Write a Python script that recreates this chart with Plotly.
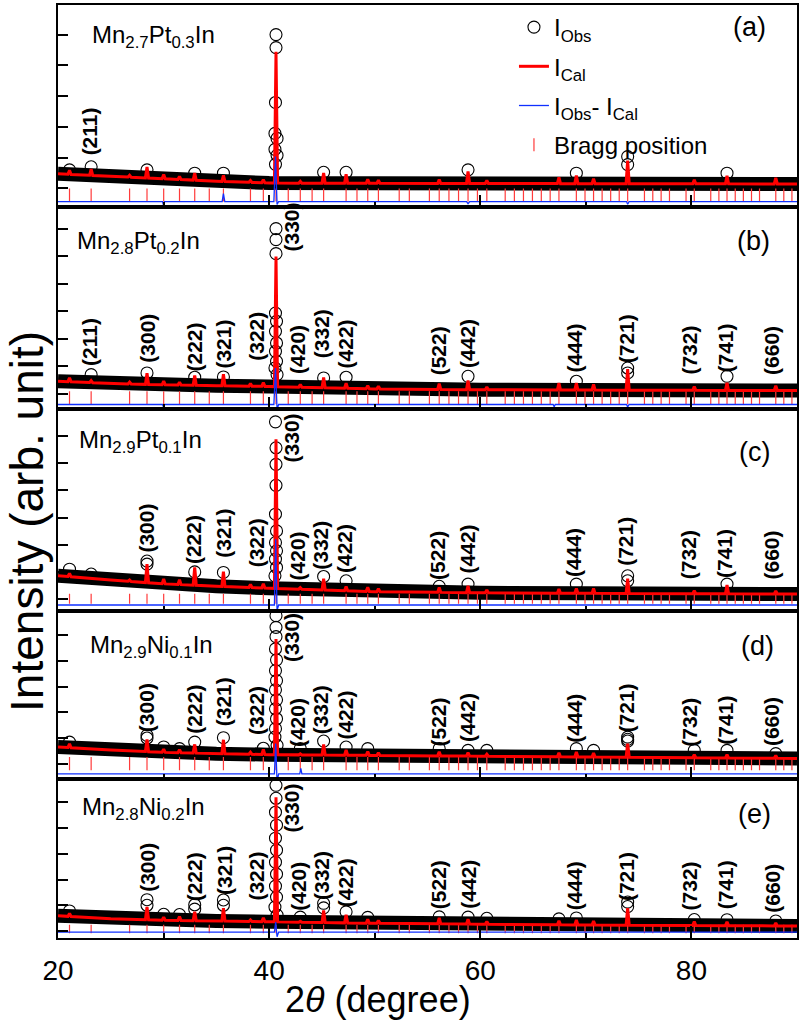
import numpy as np
import plotly.graph_objects as go

FONT = "Liberation Sans, Arial, Helvetica, sans-serif"

# ---------------- common data ----------------
BRAGG_2THETA = [21.09, 23.14, 26.78, 28.43, 30.01, 31.51, 32.95, 34.33, 35.67, 38.23,
                39.45, 40.65, 41.81, 42.95, 44.07, 45.16, 47.29, 48.32, 49.34, 50.35,
                52.32, 53.28, 55.18, 56.11, 57.03, 57.94, 58.84, 59.73, 60.62, 62.36,
                63.23, 64.09, 64.94, 65.78, 66.62, 67.45, 69.10, 69.92, 70.73, 71.54,
                72.35, 73.16, 73.96, 75.55, 76.34, 77.13, 77.92, 79.49, 80.27, 81.83,
                82.60, 83.37, 84.15, 84.92, 85.69, 86.45, 87.99, 88.75, 89.52]

PEAK_2THETA = [21.09, 23.14, 26.78, 28.43, 30.01, 31.51, 32.95, 35.67, 38.23, 39.45,
               40.65, 42.95, 45.16, 47.29, 49.34, 50.35, 56.11, 58.84, 60.62, 67.45,
               69.10, 70.73, 73.96, 80.27, 83.37, 87.99]

BG_2THETA = [20, 25, 30, 35, 40, 50, 60, 70, 80, 90]

HKL_LABELS = ["(211)", "(300)", "(222)", "(321)", "(322)", "(330)", "(420)", "(332)",
              "(422)", "(522)", "(442)", "(444)", "(721)", "(732)", "(741)", "(660)"]
HKL_2THETA = [23.0, 28.4, 32.9, 35.7, 38.8, 42.1, 42.7, 44.9,
              47.2, 56.0, 58.8, 68.9, 73.8, 79.8, 83.2, 87.6]

SAMPLES = ["Mn<sub>2.7</sub>Pt<sub>0.3</sub>In", "Mn<sub>2.8</sub>Pt<sub>0.2</sub>In",
           "Mn<sub>2.9</sub>Pt<sub>0.1</sub>In", "Mn<sub>2.9</sub>Ni<sub>0.1</sub>In",
           "Mn<sub>2.8</sub>Ni<sub>0.2</sub>In"]
PANEL_TAGS = ["(a)", "(b)", "(c)", "(d)", "(e)"]

# ---------------- panel (a) ----------------
BG_A = [470, 390, 310, 230, 170, 160, 155, 150, 145, 140]
CAL_RISE_A = [130, 200, 60, 360, 140, 100, 230, 200, 60, 100, 4270, 60, 330, 290, 130, 100,
              130, 390, 100, 200, 260, 160, 750, 130, 260, 200]
OBS_X_A = [21.09, 23.14, 28.43, 32.95, 35.67, 45.16, 47.29, 58.84, 69.10, 73.96, 73.96, 83.37,
           40.65, 40.65, 40.6, 40.55, 40.75, 40.55, 40.75, 40.6]
OBS_Y_A = [600, 700, 600, 490, 490, 520, 520, 600, 490, 1030, 770, 490,
           5000, 4578, 2792, 1786, 1623, 1266, 1071, 779]
DIFF_X_A = [20, 29.9, 30.0, 30.1, 35.55, 35.67, 35.8, 40.45, 40.6, 40.75, 40.9,
            58.7, 58.84, 59.0, 73.85, 73.96, 74.1, 90]
DIFF_Y_A = [-432, -432, -560, -432, -432, -170, -432, -432, 1030, -530, -432,
            -432, -500, -432, -432, -520, -432, -432]
HKL_Y_A = [1841, None, None, None, None, None, None, None,
           None, None, None, None, None, None, None, None]

# ---------------- panel (b) ----------------
BG_B = [460, 380, 330, 300, 270, 180, 150, 140, 130, 120]
CAL_RISE_B = [145, 70, 70, 410, 140, 100, 360, 420, 100, 140, 4720, 100, 375, 180, 110, 100,
              210, 330, 100, 250, 250, 210, 760, 140, 280, 180]
OBS_X_B = [23.14, 28.43, 32.95, 35.67, 45.16, 47.29, 58.84, 69.10, 73.96, 73.96, 83.37,
           40.65, 40.65, 40.65, 40.6, 40.7, 40.6, 40.7, 40.6, 40.7, 40.55, 40.75]
OBS_Y_B = [700, 760, 605, 615, 580, 605, 640, 460, 940, 760, 640,
           6000, 5600, 5090, 2935, 2634, 2272, 1848, 1547, 1185, 942, 703]
DIFF_X_B = [20, 29.9, 30.0, 30.1, 40.45, 40.6, 40.75, 40.9, 66.9, 67.0, 67.1,
            73.85, 73.96, 74.1, 90]
DIFF_Y_B = [-385, -385, -480, -385, -385, 940, -554, -385, -385, -460, -385,
            -385, -470, -385, -385]
HKL_Y_B = [1873, 2029, 1692, 1819, 2091, 6050, 1620, 2199,
           1801, 1547, 1837, 1656, 2018, 1583, 1656, 1583]

# ---------------- panel (c) ----------------
BG_C = [860, 700, 560, 470, 400, 270, 230, 210, 195, 185]
CAL_RISE_C = [120, 0, 50, 680, 180, 180, 660, 550, 110, 150, 5500, 60, 420, 160, 150, 110,
              180, 250, 110, 150, 180, 180, 547, 110, 325, 110]
OBS_X_C = [21.09, 23.14, 28.43, 28.43, 32.95, 35.67, 45.16, 47.29, 56.11, 58.84, 69.10,
           73.96, 73.96, 83.37,
           40.6, 40.65, 40.65, 40.65, 40.6, 40.7, 40.6, 40.7, 40.6, 40.7, 40.55]
OBS_Y_C = [1100, 920, 1400, 1287, 1000, 980, 830, 673, 470, 551, 551,
           857, 673, 551,
           6530, 5574, 4963, 4191, 3125, 2511, 2081, 1776, 1471, 1162, 857]
DIFF_X_C = [20, 40.5, 40.62, 40.75, 40.9, 90]
DIFF_Y_C = [-220, -220, 2200, -420, -220, -220]
HKL_Y_C = [None, 2621, 2180, 2438, 2070, 5930, 1592, 1996,
           1849, 1592, 1849, 1702, 2143, 1629, 1665, 1629]

# ---------------- panel (d) ----------------
BG_D = [650, 530, 440, 390, 350, 320, 290, 260, 230, 200]
CAL_RISE_D = [150, 0, 0, 474, 120, 120, 340, 545, 80, 200, 4514, 40, 410, 210, 150, 110,
              160, 135, 80, 150, 190, 150, 530, 120, 130, 110]
OBS_X_D = [21.09, 28.43, 28.43, 30.01, 31.51, 32.95, 35.67, 39.45, 42.95, 45.16, 47.29,
           49.34, 56.11, 58.84, 60.62, 69.10, 70.73, 73.96, 73.96, 73.96, 80.27, 83.37, 87.99,
           40.65, 40.65, 40.65, 40.6, 40.7, 40.6, 40.7, 40.6, 40.7, 40.6, 40.7, 40.6, 40.55, 40.75]
OBS_Y_D = [840, 1100, 1000, 650, 584, 840, 1012, 600, 584, 880, 646,
           584, 584, 518, 518, 584, 518, 1035, 950, 880, 518, 518, 389,
           5770, 5315, 4953, 4475, 4047, 3630, 3241, 2879, 2490, 2140, 1751, 1362, 1035, 712]
DIFF_X_D = [20, 40.5, 40.62, 40.75, 40.9, 42.9, 43.0, 43.1, 90]
DIFF_Y_D = [-400, -400, 780, -700, -400, -400, -183, -400, -400]
HKL_Y_D = [None, 2191, 2113, 2424, 2074, 4914, 1607, 2113,
           1879, 1607, 1802, 1763, 2191, 1607, 1685, 1646]

# ---------------- panel (e) ----------------
BG_E = [590, 480, 420, 390, 360, 300, 265, 235, 215, 195]
CAL_RISE_E = [120, 0, 0, 500, 120, 150, 350, 500, 60, 150, 4834, 40, 465, 310, 150, 110,
              230, 190, 110, 150, 190, 150, 660, 150, 150, 110]
OBS_X_E = [21.09, 28.43, 28.43, 30.01, 31.51, 32.95, 32.95, 35.67, 35.67, 42.95, 45.16, 45.16,
           47.29, 49.34, 56.11, 58.84, 60.62, 67.45, 69.10, 73.96, 73.96, 80.27, 83.37, 87.99,
           40.65, 40.65, 40.6, 40.7, 40.6, 40.7, 40.6, 40.7, 40.6, 40.7, 40.55, 40.75]
OBS_Y_E = [780, 1215, 1000, 650, 640, 1020, 850, 1205, 1000, 540, 1076, 900,
           745, 530, 550, 540, 495, 470, 508, 1125, 950, 445, 440, 390,
           5659, 5155, 4612, 4108, 3605, 3140, 2674, 2209, 1744, 1318, 930, 620]
DIFF_X_E = [20, 40.5, 40.62, 40.75, 40.9, 90]
DIFF_Y_E = [-40, -40, 350, -220, -40, -40]
HKL_Y_E = [None, 2481, 2093, 2364, 2132, 4767, 1744, 2171,
           1860, 1783, 1822, 1744, 2132, 1744, 1783, 1667]

PANELS = [
    (BG_A, CAL_RISE_A, OBS_X_A, OBS_Y_A, DIFF_X_A, DIFF_Y_A, HKL_Y_A),
    (BG_B, CAL_RISE_B, OBS_X_B, OBS_Y_B, DIFF_X_B, DIFF_Y_B, HKL_Y_B),
    (BG_C, CAL_RISE_C, OBS_X_C, OBS_Y_C, DIFF_X_C, DIFF_Y_C, HKL_Y_C),
    (BG_D, CAL_RISE_D, OBS_X_D, OBS_Y_D, DIFF_X_D, DIFF_Y_D, HKL_Y_D),
    (BG_E, CAL_RISE_E, OBS_X_E, OBS_Y_E, DIFF_X_E, DIFF_Y_E, HKL_Y_E),
]

# ---------------- layout / style ----------------
DOMAINS = [(0.7840, 1.0), (0.5668, 0.7840), (0.3508, 0.5668), (0.1701, 0.3508), (0.0, 0.1701)]
YRANGES = [(-594, 5964), (-554, 6801), (-430, 6996), (-611, 5965), (-271, 5891)]
BRAGG_MID = [-216, -138, 11, 0, 78]
BRAGG_SIZE = [9.3, 9.3, 7.2, 9.5, 6.0]
SAMPLE_POS = [(0.0433, 0.9660), (0.0230, 0.7450), (0.0257, 0.5320), (0.0406, 0.3120), (0.0298, 0.1385)]
TAG_POS = [(0.936, 0.976), (0.941, 0.747), (0.943, 0.521), (0.946, 0.313), (0.943, 0.133)]
HALF_WIDTH = 0.15

RED = "#ff0000"
BLUE = "#1030ff"
BRAGG_RED = "#ff3b3b"


def calc_curve(bg, rise):
    pts = []
    spans = []
    for p, h in zip(PEAK_2THETA, rise):
        if h <= 0:
            continue
        spans.append((p - HALF_WIDTH, p + HALF_WIDTH))
        for xx, add in ((p - HALF_WIDTH, 0.0), (p, h), (p + HALF_WIDTH, 0.0)):
            pts.append((xx, float(np.interp(xx, BG_2THETA, bg)) + add))
    for xb, yb in zip(BG_2THETA, bg):
        if not any(a <= xb <= b for a, b in spans):
            pts.append((xb, yb))
    pts.sort()
    return [q[0] for q in pts], [q[1] for q in pts]


fig = go.Figure()
annotations = []
layout_axes = {}

for i, (bg, rise, ox, oy, dx, dy, hky) in enumerate(PANELS):
    n = i + 1
    xr = "x" if n == 1 else f"x{n}"
    yr = "y" if n == 1 else f"y{n}"
    first = (n == 1)

    # observed data as dense band
    fig.add_trace(go.Scatter(x=BG_2THETA, y=bg, xaxis=xr, yaxis=yr, mode="lines",
                             line=dict(color="black", width=14), showlegend=False,
                             legendgroup="obs", hoverinfo="skip"))
    # observed points rising above the band
    fig.add_trace(go.Scatter(x=ox, y=oy, xaxis=xr, yaxis=yr, mode="markers",
                             name="I<sub>Obs</sub>", legendrank=1, showlegend=first,
                             legendgroup="obs", cliponaxis=False,
                             marker=dict(symbol="circle-open", size=12, color="black",
                                         line=dict(width=1.1, color="black"))))
    # Bragg positions
    fig.add_trace(go.Scatter(x=BRAGG_2THETA, y=[BRAGG_MID[i]] * len(BRAGG_2THETA),
                             xaxis=xr, yaxis=yr, mode="markers",
                             name="Bragg position", legendrank=4, showlegend=first,
                             legendgroup="bragg",
                             marker=dict(symbol="line-ns", size=BRAGG_SIZE[i], color=BRAGG_RED,
                                         line=dict(width=1.2, color=BRAGG_RED))))
    # calculated
    cx, cy = calc_curve(bg, rise)
    fig.add_trace(go.Scatter(x=cx, y=cy, xaxis=xr, yaxis=yr, mode="lines",
                             name="I<sub>Cal</sub>", legendrank=2, showlegend=first,
                             legendgroup="cal", line=dict(color=RED, width=3)))
    # difference
    fig.add_trace(go.Scatter(x=dx, y=dy, xaxis=xr, yaxis=yr, mode="lines",
                             name="I<sub>Obs</sub>- I<sub>Cal</sub>", legendrank=3,
                             showlegend=first, legendgroup="diff",
                             line=dict(color=BLUE, width=1.3)))

    xa = "xaxis" if n == 1 else f"xaxis{n}"
    ya = "yaxis" if n == 1 else f"yaxis{n}"
    layout_axes[xa] = dict(domain=[0, 1], anchor=yr, range=[20, 90], showline=True,
                           linecolor="black", linewidth=2, mirror=True, ticks="inside",
                           ticklen=12, tickwidth=1.5, tickcolor="black", tick0=20, dtick=20,
                           minor=dict(ticks="inside", ticklen=5, tickwidth=1.5,
                                      tickcolor="black", tick0=20, dtick=10),
                           showgrid=False, zeroline=False, showticklabels=(n == 5),
                           ticklabelstandoff=6,
                           tickfont=dict(size=28, family=FONT, color="black"))
    layout_axes[ya] = dict(domain=list(DOMAINS[i]), anchor=xr, range=list(YRANGES[i]),
                           showline=True, linecolor="black", linewidth=2, mirror=True,
                           ticks="inside", ticklen=10, tickwidth=1.5, tickcolor="black",
                           tick0=0, dtick=1000, showticklabels=False, showgrid=False,
                           zeroline=False)

    # hkl labels
    for lab, lx, ly in zip(HKL_LABELS, HKL_2THETA, hky):
        if ly is None:
            continue
        annotations.append(dict(x=lx, y=ly, xref=xr, yref=yr, text=lab, textangle=-90,
                                showarrow=False, xanchor="center", yanchor="middle",
                                font=dict(size=21, family=FONT, color="black", weight="bold")))
    # sample name
    sx, sy = SAMPLE_POS[i]
    annotations.append(dict(x=sx, y=sy, xref="paper", yref="paper", text=SAMPLES[i],
                            showarrow=False, xanchor="left", yanchor="middle",
                            font=dict(size=24, family=FONT, color="black")))
    tx, ty = TAG_POS[i]
    annotations.append(dict(x=tx, y=ty, xref="paper", yref="paper", text=PANEL_TAGS[i],
                            showarrow=False, xanchor="center", yanchor="middle",
                            font=dict(size=27, family=FONT, color="black")))

# axis titles
annotations.append(dict(x=-0.042, y=0.447, xref="paper", yref="paper",
                        text="Intensity (arb. unit)", textangle=-90, showarrow=False,
                        xanchor="center", yanchor="middle",
                        font=dict(size=46, family=FONT, color="black")))
annotations.append(dict(x=0.433, y=-0.0663, xref="paper", yref="paper",
                        text="2<i>θ</i> (degree)", showarrow=False,
                        xanchor="center", yanchor="middle",
                        font=dict(size=36, family=FONT, color="black")))

fig.update_layout(
    width=802, height=1024,
    margin=dict(l=58, r=5, t=3, b=86),
    paper_bgcolor="white", plot_bgcolor="white",
    font=dict(family=FONT, color="black"),
    annotations=annotations,
    legend=dict(x=0.617, y=1.0, xanchor="left", yanchor="top",
                traceorder="grouped", tracegroupgap=5,
                font=dict(size=24, family=FONT, color="black"),
                bgcolor="rgba(0,0,0,0)"),
    **layout_axes,
)

fig.write_html("out.html", config={"displayModeBar": False},
               post_script="document.body.style.margin='0px';")
